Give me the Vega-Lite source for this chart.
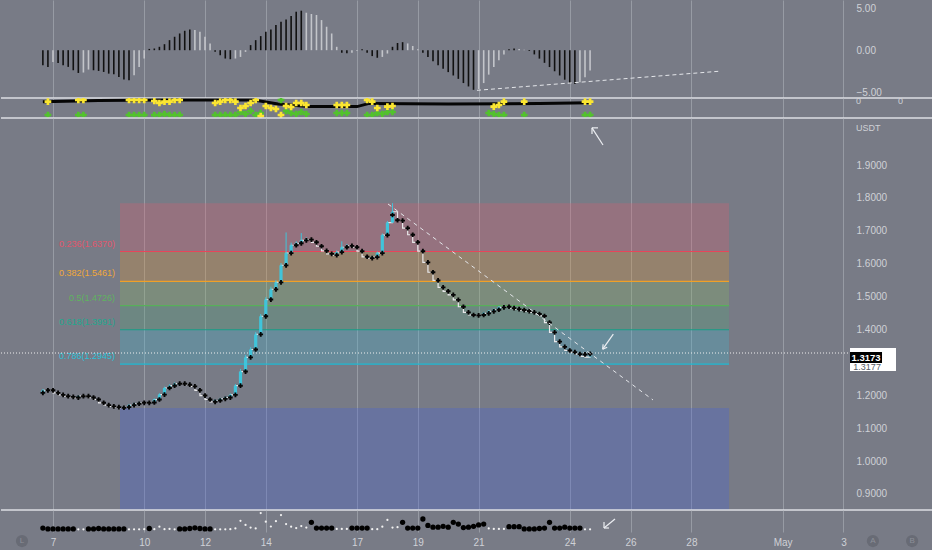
{
"$schema": "https://vega.github.io/schema/vega-lite/v6.json",
"background": "#787b86",
"padding": {"left": 0, "top": 0, "right": 0, "bottom": 3},
"spacing": 0,
"bounds": "flush",
"config": {
  "view": {"stroke": null},
  "axis": {"labelFont": "Liberation Sans", "labelColor": "#cfd1d6", "labelFontSize": 10, "tickSize": 0, "ticks": false, "domain": false},
  "axisX": {"labels": false, "grid": true, "gridColor": "#a2a5ad", "gridOpacity": 0.75, "minExtent": 0, "maxExtent": 0},
  "axisY": {"grid": false},
  "text": {"font": "Liberation Sans"}
},
"resolve": {"scale": {"x": "independent", "y": "independent", "color": "independent", "fill": "independent", "stroke": "independent"}, "axis": {"x": "independent"}},
"datasets": {
  "bars": [
    {"d":6.667,"o":1.205,"h":1.219,"c":1.215,"m":1.207,"hist":-1.79,"bv":1.8,"bk":"b"},
    {"d":6.833,"o":1.215,"h":1.218,"c":1.215,"m":1.215,"hist":-1.98,"bv":1.4,"bk":"b"},
    {"d":7.0,"o":1.215,"h":1.218,"c":1.207,"m":1.215,"hist":-1.39,"bv":1.4,"bk":"b"},
    {"d":7.167,"o":1.207,"h":1.210,"c":1.201,"m":1.207,"hist":-1.51,"bv":1.4,"bk":"b"},
    {"d":7.333,"o":1.201,"h":1.204,"c":1.197,"m":1.201,"hist":-1.79,"bv":1.4,"bk":"b"},
    {"d":7.5,"o":1.197,"h":1.200,"c":1.195,"m":1.197,"hist":-1.98,"bv":1.4,"bk":"b"},
    {"d":7.667,"o":1.195,"h":1.198,"c":1.193,"m":1.195,"hist":-2.38,"bv":1.4,"bk":"b"},
    {"d":7.833,"o":1.193,"h":1.200,"c":1.197,"m":1.193,"hist":-2.70,"bv":1.2,"bk":"w"},
    {"d":8.0,"o":1.197,"h":1.200,"c":1.197,"m":1.197,"hist":-2.65,"bv":1.2,"bk":"w"},
    {"d":8.167,"o":1.197,"h":1.200,"c":1.193,"m":1.197,"hist":-2.30,"bv":1.4,"bk":"b"},
    {"d":8.333,"o":1.193,"h":1.196,"c":1.187,"m":1.193,"hist":-2.38,"bv":1.4,"bk":"b"},
    {"d":8.5,"o":1.187,"h":1.190,"c":1.177,"m":1.187,"hist":-2.46,"bv":1.6,"bk":"b"},
    {"d":8.667,"o":1.177,"h":1.180,"c":1.170,"m":1.177,"hist":-2.58,"bv":1.4,"bk":"b"},
    {"d":8.833,"o":1.170,"h":1.173,"c":1.166,"m":1.170,"hist":-2.78,"bv":1.4,"bk":"b"},
    {"d":9.0,"o":1.166,"h":1.169,"c":1.164,"m":1.166,"hist":-2.86,"bv":1.4,"bk":"b"},
    {"d":9.167,"o":1.164,"h":1.167,"c":1.162,"m":1.164,"hist":-3.17,"bv":1.4,"bk":"b"},
    {"d":9.333,"o":1.162,"h":1.167,"c":1.164,"m":1.162,"hist":-3.49,"bv":1.4,"bk":"b"},
    {"d":9.5,"o":1.164,"h":1.173,"c":1.170,"m":1.164,"hist":-3.57,"bv":1.2,"bk":"w"},
    {"d":9.667,"o":1.170,"h":1.177,"c":1.174,"m":1.170,"hist":-2.98,"bv":1.2,"bk":"w"},
    {"d":9.833,"o":1.174,"h":1.180,"c":1.177,"m":1.174,"hist":-1.98,"bv":1.2,"bk":"w"},
    {"d":10.0,"o":1.177,"h":1.180,"c":1.177,"m":1.177,"hist":-0.99,"bv":1.3,"bk":"w"},
    {"d":10.167,"o":1.177,"h":1.181,"c":1.178,"m":1.177,"hist":0.15,"bv":1.6,"bk":"b"},
    {"d":10.333,"o":1.178,"h":1.190,"c":1.187,"m":1.178,"hist":0.2,"bv":1.3,"bk":"w"},
    {"d":10.5,"o":1.187,"h":1.206,"c":1.202,"m":1.187,"hist":0.4,"bv":2.4,"bk":"w"},
    {"d":10.667,"o":1.202,"h":1.226,"c":1.222,"m":1.202,"hist":0.71,"bv":1.3,"bk":"w"},
    {"d":10.833,"o":1.222,"h":1.233,"c":1.229,"m":1.222,"hist":1.19,"bv":1.4,"bk":"w"},
    {"d":11.0,"o":1.229,"h":1.239,"c":1.235,"m":1.229,"hist":1.59,"bv":1.2,"bk":"w"},
    {"d":11.167,"o":1.235,"h":1.238,"c":1.235,"m":1.235,"hist":1.98,"bv":1.4,"bk":"b"},
    {"d":11.333,"o":1.235,"h":1.238,"c":1.232,"m":1.235,"hist":2.30,"bv":1.4,"bk":"b"},
    {"d":11.5,"o":1.232,"h":1.235,"c":1.227,"m":1.232,"hist":2.46,"bv":1.6,"bk":"b"},
    {"d":11.667,"o":1.227,"h":1.230,"c":1.215,"m":1.227,"hist":2.38,"bv":1.9,"bk":"b"},
    {"d":11.833,"o":1.215,"h":1.218,"c":1.199,"m":1.215,"hist":2.18,"bv":1.6,"bk":"b"},
    {"d":12.0,"o":1.199,"h":1.202,"c":1.187,"m":1.199,"hist":1.59,"bv":1.4,"bk":"b"},
    {"d":12.167,"o":1.187,"h":1.190,"c":1.180,"m":1.187,"hist":0.79,"bv":1.4,"bk":"b"},
    {"d":12.333,"o":1.180,"h":1.187,"c":1.184,"m":1.180,"hist":-0.2,"bv":1.2,"bk":"w"},
    {"d":12.5,"o":1.184,"h":1.192,"c":1.189,"m":1.184,"hist":-0.6,"bv":1.2,"bk":"w"},
    {"d":12.667,"o":1.189,"h":1.196,"c":1.193,"m":1.189,"hist":-0.99,"bv":1.2,"bk":"w"},
    {"d":12.833,"o":1.193,"h":1.205,"c":1.201,"m":1.193,"hist":-1.07,"bv":1.3,"bk":"w"},
    {"d":13.0,"o":1.201,"h":1.234,"c":1.229,"m":1.201,"hist":-0.99,"bv":1.6,"bk":"w"},
    {"d":13.167,"o":1.229,"h":1.280,"c":1.272,"m":1.229,"hist":-0.8,"bv":5.1,"bk":"w"},
    {"d":13.333,"o":1.272,"h":1.322,"c":1.315,"m":1.272,"hist":-0.2,"bv":3.2,"bk":"w"},
    {"d":13.5,"o":1.315,"h":1.346,"c":1.339,"m":1.315,"hist":0.6,"bv":2.0,"bk":"w"},
    {"d":13.667,"o":1.339,"h":1.392,"c":1.385,"m":1.339,"hist":1.19,"bv":1.6,"bk":"w"},
    {"d":13.833,"o":1.385,"h":1.447,"c":1.440,"m":1.385,"hist":1.67,"bv":8.6,"bk":"w"},
    {"d":14.0,"o":1.440,"h":1.498,"c":1.491,"m":1.440,"hist":2.18,"bv":4.7,"bk":"w"},
    {"d":14.167,"o":1.491,"h":1.530,"c":1.522,"m":1.491,"hist":2.46,"bv":2.5,"bk":"w"},
    {"d":14.333,"o":1.522,"h":1.550,"c":1.543,"m":1.522,"hist":2.98,"bv":4.9,"bk":"w"},
    {"d":14.5,"o":1.543,"h":1.602,"c":1.595,"m":1.543,"hist":3.37,"bv":7.7,"bk":"w"},
    {"d":14.667,"o":1.595,"h":1.695,"c":1.632,"m":1.595,"hist":3.65,"bv":3.6,"bk":"w"},
    {"d":14.833,"o":1.632,"h":1.664,"c":1.656,"m":1.632,"hist":4.05,"bv":2.4,"bk":"w"},
    {"d":15.0,"o":1.656,"h":1.668,"c":1.662,"m":1.656,"hist":4.56,"bv":1.8,"bk":"w"},
    {"d":15.167,"o":1.662,"h":1.693,"c":1.671,"m":1.662,"hist":4.68,"bv":2.7,"bk":"w"},
    {"d":15.333,"o":1.671,"h":1.680,"c":1.673,"m":1.671,"hist":4.44,"bv":2.0,"bk":"w"},
    {"d":15.5,"o":1.673,"h":1.676,"c":1.665,"m":1.673,"hist":4.29,"bv":4.4,"bk":"b"},
    {"d":15.667,"o":1.665,"h":1.668,"c":1.653,"m":1.665,"hist":4.17,"bv":1.8,"bk":"b"},
    {"d":15.833,"o":1.653,"h":1.656,"c":1.639,"m":1.653,"hist":3.57,"bv":1.8,"bk":"b"},
    {"d":16.0,"o":1.639,"h":1.642,"c":1.630,"m":1.639,"hist":2.78,"bv":1.8,"bk":"b"},
    {"d":16.167,"o":1.630,"h":1.633,"c":1.626,"m":1.630,"hist":1.98,"bv":1.8,"bk":"b"},
    {"d":16.333,"o":1.626,"h":1.640,"c":1.635,"m":1.626,"hist":0.4,"bv":1.4,"bk":"w"},
    {"d":16.5,"o":1.635,"h":1.668,"c":1.650,"m":1.635,"hist":-0.3,"bv":1.4,"bk":"w"},
    {"d":16.667,"o":1.650,"h":1.660,"c":1.654,"m":1.650,"hist":-0.35,"bv":1.4,"bk":"w"},
    {"d":16.833,"o":1.654,"h":1.657,"c":1.650,"m":1.654,"hist":-0.3,"bv":1.8,"bk":"b"},
    {"d":17.0,"o":1.650,"h":1.653,"c":1.638,"m":1.650,"hist":-0.1,"bv":1.8,"bk":"b"},
    {"d":17.167,"o":1.638,"h":1.641,"c":1.621,"m":1.638,"hist":0.1,"bv":1.8,"bk":"b"},
    {"d":17.333,"o":1.621,"h":1.624,"c":1.617,"m":1.621,"hist":-0.3,"bv":1.8,"bk":"b"},
    {"d":17.5,"o":1.617,"h":1.624,"c":1.620,"m":1.617,"hist":-0.7,"bv":1.3,"bk":"w"},
    {"d":17.667,"o":1.620,"h":1.637,"c":1.632,"m":1.620,"hist":-0.9,"bv":1.3,"bk":"w"},
    {"d":17.833,"o":1.632,"h":1.692,"c":1.687,"m":1.632,"hist":-0.8,"bv":2.4,"bk":"w"},
    {"d":18.0,"o":1.687,"h":1.730,"c":1.725,"m":1.687,"hist":-0.4,"bv":5.5,"bk":"w"},
    {"d":18.167,"o":1.725,"h":1.784,"c":1.758,"m":1.748,"hist":0.4,"bv":2.0,"bk":"w"},
    {"d":18.333,"o":1.758,"h":1.761,"c":1.731,"m":1.732,"hist":0.85,"bv":2.2,"bk":"w"},
    {"d":18.5,"o":1.731,"h":1.734,"c":1.708,"m":1.731,"hist":0.95,"bv":4.4,"bk":"b"},
    {"d":18.667,"o":1.708,"h":1.711,"c":1.688,"m":1.708,"hist":0.8,"bv":1.8,"bk":"b"},
    {"d":18.833,"o":1.688,"h":1.691,"c":1.665,"m":1.688,"hist":0.5,"bv":1.8,"bk":"b"},
    {"d":19.0,"o":1.665,"h":1.668,"c":1.638,"m":1.665,"hist":0.1,"bv":1.8,"bk":"b"},
    {"d":19.167,"o":1.638,"h":1.641,"c":1.604,"m":1.638,"hist":-0.3,"bv":5.9,"bk":"b"},
    {"d":19.333,"o":1.604,"h":1.607,"c":1.574,"m":1.604,"hist":-0.8,"bv":3.0,"bk":"b"},
    {"d":19.5,"o":1.574,"h":1.577,"c":1.549,"m":1.574,"hist":-1.3,"bv":2.2,"bk":"b"},
    {"d":19.667,"o":1.549,"h":1.552,"c":1.528,"m":1.549,"hist":-1.8,"bv":2.2,"bk":"b"},
    {"d":19.833,"o":1.528,"h":1.531,"c":1.516,"m":1.528,"hist":-2.2,"bv":2.6,"bk":"b"},
    {"d":20.0,"o":1.516,"h":1.519,"c":1.505,"m":1.516,"hist":-2.6,"bv":2.2,"bk":"b"},
    {"d":20.167,"o":1.505,"h":1.508,"c":1.490,"m":1.505,"hist":-3.0,"bv":4.4,"bk":"b"},
    {"d":20.333,"o":1.490,"h":1.493,"c":1.469,"m":1.490,"hist":-3.4,"bv":3.6,"bk":"b"},
    {"d":20.5,"o":1.469,"h":1.472,"c":1.452,"m":1.469,"hist":-3.9,"bv":2.0,"bk":"b"},
    {"d":20.667,"o":1.452,"h":1.455,"c":1.444,"m":1.452,"hist":-4.3,"bv":2.2,"bk":"b"},
    {"d":20.833,"o":1.444,"h":1.447,"c":1.443,"m":1.444,"hist":-4.7,"bv":2.6,"bk":"b"},
    {"d":21.0,"o":1.443,"h":1.447,"c":1.444,"m":1.443,"hist":-4.6,"bv":3.2,"bk":"b"},
    {"d":21.167,"o":1.444,"h":1.453,"c":1.449,"m":1.444,"hist":-3.9,"bv":3.6,"bk":"b"},
    {"d":21.333,"o":1.449,"h":1.459,"c":1.455,"m":1.449,"hist":-2.9,"bv":1.6,"bk":"w"},
    {"d":21.5,"o":1.455,"h":1.464,"c":1.460,"m":1.455,"hist":-2.0,"bv":1.4,"bk":"w"},
    {"d":21.667,"o":1.460,"h":1.471,"c":1.467,"m":1.460,"hist":-1.2,"bv":1.4,"bk":"w"},
    {"d":21.833,"o":1.467,"h":1.473,"c":1.469,"m":1.467,"hist":-0.5,"bv":1.4,"bk":"w"},
    {"d":22.0,"o":1.469,"h":1.472,"c":1.465,"m":1.469,"hist":0.1,"bv":2.4,"bk":"b"},
    {"d":22.167,"o":1.465,"h":1.468,"c":1.462,"m":1.465,"hist":0.2,"bv":2.4,"bk":"b"},
    {"d":22.333,"o":1.462,"h":1.465,"c":1.459,"m":1.462,"hist":0.15,"bv":2.4,"bk":"b"},
    {"d":22.5,"o":1.459,"h":1.462,"c":1.456,"m":1.459,"hist":0.05,"bv":1.4,"bk":"b"},
    {"d":22.667,"o":1.456,"h":1.459,"c":1.452,"m":1.456,"hist":-0.1,"bv":1.4,"bk":"b"},
    {"d":22.833,"o":1.452,"h":1.455,"c":1.447,"m":1.452,"hist":-0.5,"bv":1.4,"bk":"b"},
    {"d":23.0,"o":1.447,"h":1.450,"c":1.441,"m":1.447,"hist":-1.0,"bv":1.6,"bk":"b"},
    {"d":23.167,"o":1.441,"h":1.444,"c":1.421,"m":1.441,"hist":-1.5,"bv":1.8,"bk":"b"},
    {"d":23.333,"o":1.421,"h":1.424,"c":1.391,"m":1.421,"hist":-2.0,"bv":4.4,"bk":"b"},
    {"d":23.5,"o":1.391,"h":1.394,"c":1.363,"m":1.391,"hist":-2.5,"bv":1.8,"bk":"b"},
    {"d":23.667,"o":1.363,"h":1.366,"c":1.347,"m":1.363,"hist":-3.0,"bv":1.8,"bk":"b"},
    {"d":23.833,"o":1.347,"h":1.350,"c":1.336,"m":1.347,"hist":-3.5,"bv":2.2,"bk":"b"},
    {"d":24.0,"o":1.336,"h":1.339,"c":1.331,"m":1.336,"hist":-3.9,"bv":1.8,"bk":"b"},
    {"d":24.167,"o":1.331,"h":1.334,"c":1.325,"m":1.331,"hist":-4.0,"bv":1.8,"bk":"b"},
    {"d":24.333,"o":1.325,"h":1.328,"c":1.318,"m":1.325,"hist":-3.8,"bv":1.8,"bk":"b"},
    {"d":24.5,"o":1.318,"h":1.321,"c":1.316,"m":1.324,"hist":-3.2,"bv":1.2,"bk":"w"},
    {"d":24.667,"o":1.316,"h":1.320,"c":1.3173,"m":1.326,"hist":-2.4,"bv":1.2,"bk":"w"}
  ],
  "sig": [
    {"d":6.833,"v":1.5,"k":"g"},{"d":7.833,"v":1.5,"k":"g"},{"d":8.0,"v":1.5,"k":"g"},{"d":9.5,"v":1.5,"k":"g"},{"d":9.667,"v":1.5,"k":"g"},{"d":9.833,"v":1.5,"k":"g"},{"d":10.0,"v":1.5,"k":"g"},{"d":10.333,"v":1.5,"k":"g"},{"d":10.5,"v":1.5,"k":"g"},{"d":10.667,"v":2,"k":"g"},{"d":10.833,"v":1.5,"k":"g"},{"d":11.0,"v":1.5,"k":"g"},{"d":11.167,"v":1.5,"k":"g"},{"d":12.333,"v":1.5,"k":"g"},{"d":12.5,"v":1.5,"k":"g"},{"d":12.667,"v":1.5,"k":"g"},{"d":12.833,"v":1.5,"k":"g"},{"d":13.0,"v":1.5,"k":"g"},{"d":13.167,"v":3,"k":"g"},{"d":13.333,"v":2,"k":"g"},{"d":13.5,"v":3.5,"k":"g"},{"d":13.667,"v":1.5,"k":"g"},{"d":13.833,"v":2.5,"k":"g"},{"d":14.5,"v":9,"k":"g"},{"d":14.667,"v":3.5,"k":"g"},{"d":14.833,"v":2.5,"k":"g"},{"d":15.0,"v":2,"k":"g"},{"d":15.167,"v":3,"k":"g"},{"d":15.333,"v":2,"k":"g"},{"d":16.333,"v":2.5,"k":"g"},{"d":16.5,"v":2.5,"k":"g"},{"d":16.667,"v":2.5,"k":"g"},{"d":17.333,"v":1.5,"k":"g"},{"d":17.5,"v":1.5,"k":"g"},{"d":17.667,"v":2.5,"k":"g"},{"d":17.833,"v":2,"k":"g"},{"d":18.0,"v":3,"k":"g"},{"d":18.167,"v":3,"k":"g"},{"d":21.333,"v":2.5,"k":"g"},{"d":21.5,"v":2,"k":"g"},{"d":21.667,"v":1.5,"k":"g"},{"d":21.833,"v":1.5,"k":"g"},{"d":22.5,"v":1.5,"k":"g"},{"d":24.5,"v":1.5,"k":"g"},{"d":24.667,"v":1.5,"k":"g"},
    {"d":6.833,"v":8.2,"k":"y"},{"d":7.833,"v":9,"k":"y"},{"d":8.0,"v":9,"k":"y"},{"d":9.5,"v":9,"k":"y"},{"d":9.667,"v":9,"k":"y"},{"d":9.833,"v":9,"k":"y"},{"d":10.0,"v":9,"k":"y"},{"d":10.333,"v":8.5,"k":"y"},{"d":10.5,"v":7.5,"k":"y"},{"d":10.667,"v":8.2,"k":"y"},{"d":10.833,"v":8.2,"k":"y"},{"d":11.0,"v":9,"k":"y"},{"d":11.167,"v":9,"k":"y"},{"d":12.333,"v":7.5,"k":"y"},{"d":12.5,"v":8.2,"k":"y"},{"d":12.667,"v":9,"k":"y"},{"d":12.833,"v":9,"k":"y"},{"d":13.0,"v":8.2,"k":"y"},{"d":13.167,"v":5,"k":"y"},{"d":13.333,"v":6,"k":"y"},{"d":13.5,"v":7.5,"k":"y"},{"d":13.667,"v":9,"k":"y"},{"d":13.833,"v":0.9,"k":"y"},{"d":14.0,"v":6,"k":"y"},{"d":14.167,"v":5,"k":"y"},{"d":14.333,"v":4.5,"k":"y"},{"d":14.5,"v":1.5,"k":"y"},{"d":14.667,"v":6,"k":"y"},{"d":14.833,"v":5.5,"k":"y"},{"d":15.0,"v":7.5,"k":"y"},{"d":15.167,"v":7.5,"k":"y"},{"d":15.333,"v":6.5,"k":"y"},{"d":16.333,"v":6.5,"k":"y"},{"d":16.5,"v":6.5,"k":"y"},{"d":16.667,"v":6.5,"k":"y"},{"d":17.333,"v":9,"k":"y"},{"d":17.5,"v":8.2,"k":"y"},{"d":17.667,"v":5,"k":"y"},{"d":18.0,"v":5.7,"k":"y"},{"d":18.167,"v":6,"k":"y"},{"d":21.5,"v":5.7,"k":"y"},{"d":21.667,"v":6.5,"k":"y"},{"d":21.833,"v":8.2,"k":"y"},{"d":22.5,"v":8.2,"k":"y"},{"d":24.5,"v":8.2,"k":"y"},{"d":24.667,"v":8.2,"k":"y"}
  ],
  "osc": [
    {"d":6.667,"v":8.15},{"d":8.5,"v":8.8},{"d":10.5,"v":9},{"d":13.6,"v":9},{"d":14.4,"v":7},{"d":15.4,"v":5.7},{"d":17.0,"v":5.7},{"d":17.4,"v":7.3},{"d":20.0,"v":7},{"d":23.0,"v":7.2},{"d":24.667,"v":7.6}
  ],
  "fib": [
    {"lvl":"0.236","d1":9.204,"d2":29.237,"top":1.784,"bot":1.637,"lab":"0.236(1.6370)"},
    {"lvl":"0.382","d1":9.204,"d2":29.237,"top":1.637,"bot":1.5461,"lab":"0.382(1.5461)"},
    {"lvl":"0.5","d1":9.204,"d2":29.237,"top":1.5461,"bot":1.4726,"lab":"0.5(1.4726)"},
    {"lvl":"0.618","d1":9.204,"d2":29.237,"top":1.4726,"bot":1.3991,"lab":"0.618(1.3991)"},
    {"lvl":"0.786","d1":9.204,"d2":29.237,"top":1.3991,"bot":1.2945,"lab":"0.786(1.2945)"},
    {"lvl":"box","d1":9.204,"d2":29.237,"top":1.1612,"bot":0.851,"lab":""}
  ],
  "trend": [{"d1":18.02,"p1":1.7815,"d2":26.737,"p2":1.1856}],
  "pline": [{"d1":5.29,"d2":33.217,"p":1.3284}],
  "arr": [
    {"d1":25.092,"p1":1.961,"d2":24.730,"p2":2.013},
    {"d1":24.730,"p1":2.013,"d2":24.928,"p2":2.013},
    {"d1":24.730,"p1":2.013,"d2":24.730,"p2":1.994},
    {"d1":25.431,"p1":1.386,"d2":25.082,"p2":1.340},
    {"d1":25.082,"p1":1.340,"d2":25.230,"p2":1.346},
    {"d1":25.082,"p1":1.340,"d2":25.095,"p2":1.355}
  ],
  "topdash": [{"d1":20.947,"v1":-4.76,"d2":28.908,"v2":-2.5}],
  "botarr": [
    {"d1":25.487,"v1":5.9,"d2":25.125,"v2":1.82},
    {"d1":25.125,"v1":1.82,"d2":25.289,"v2":1.82},
    {"d1":25.125,"v1":1.82,"d2":25.125,"v2":4.5}
  ],
  "icons": [{"d":5.98,"t":"L"},{"d":33.97,"t":"A"},{"d":35.26,"t":"B"}]
},
"vconcat": [
  {
    "width": 932, "height": 98,
    "layer": [
      {
        "data": {"name": "bars"},
        "transform": [{"window": [{"op": "lag", "field": "hist", "as": "hp"}], "sort": [{"field": "d"}]}],
        "mark": {"type": "rule", "strokeWidth": 1.6},
        "encoding": {
          "x": {"field": "d", "type": "quantitative", "title": null, "scale": {"domain": [5.2895, 35.947], "nice": false, "zero": false}, "axis": {"values": [7,10,12,14,17,19,21,24,26,28,31,33]}},
          "y": {"field": "hist", "type": "quantitative", "title": null, "scale": {"domain": [-5.67, 5.95], "nice": false, "zero": false}, "axis": {"orient": "right", "offset": -77, "values": [-5,-2.5,0,2.5,5], "format": ".2f", "labelPadding": 0}},
          "y2": {"datum": 0},
          "color": {"condition": {"test": "datum.hp != null && datum.hist * datum.hp > 0 && abs(datum.hist) < abs(datum.hp)", "value": "#c3c5ca"}, "value": "#111111"}
        }
      },
      {
        "data": {"name": "topdash"},
        "mark": {"type": "rule", "color": "#e4e6ea", "strokeWidth": 1, "strokeDash": [4, 3]},
        "encoding": {
          "x": {"field": "d1", "type": "quantitative", "title": null, "scale": {"domain": [5.2895, 35.947], "nice": false, "zero": false}},
          "y": {"field": "v1", "type": "quantitative", "title": null, "scale": {"domain": [-5.67, 5.95], "nice": false, "zero": false}},
          "x2": {"field": "d2"}, "y2": {"field": "v2"}
        }
      },
      {
        "data": {"values": [{}]},
        "mark": {"type": "rule", "color": "#dcdee3", "strokeWidth": 1.5},
        "encoding": {"y": {"datum": -5.67, "type": "quantitative", "scale": {"domain": [-5.67, 5.95], "nice": false, "zero": false}}}
      }
    ]
  },
  {
    "width": 932, "height": 20,
    "layer": [
      {
        "data": {"name": "osc"},
        "mark": {"type": "line", "color": "#050505", "strokeWidth": 3},
        "encoding": {
          "x": {"field": "d", "type": "quantitative", "title": null, "scale": {"domain": [5.2895, 35.947], "nice": false, "zero": false}, "axis": {"values": [7,10,12,14,17,19,21,24,26,28,31,33]}},
          "y": {"field": "v", "type": "quantitative", "title": null, "scale": {"domain": [0, 10], "nice": false, "zero": false}, "axis": null}
        }
      },
      {
        "data": {"name": "sig"},
        "mark": {"type": "point", "shape": "cross", "filled": true, "size": 45, "opacity": 1, "clip": true},
        "encoding": {
          "x": {"field": "d", "type": "quantitative", "title": null, "scale": {"domain": [5.2895, 35.947], "nice": false, "zero": false}},
          "y": {"field": "v", "type": "quantitative", "title": null, "scale": {"domain": [0, 10], "nice": false, "zero": false}},
          "color": {"field": "k", "type": "nominal", "scale": {"domain": ["y", "g"], "range": ["#fbe631", "#52c22c"]}, "legend": null}
        }
      },
      {
        "data": {"values": [{}]},
        "mark": {"type": "text", "text": "0", "fontSize": 9, "color": "#cfd1d6", "align": "left", "baseline": "middle"},
        "encoding": {"x": {"datum": 33.414, "type": "quantitative", "scale": {"domain": [5.2895, 35.947], "nice": false, "zero": false}}, "y": {"datum": 8.5, "type": "quantitative", "scale": {"domain": [0, 10], "nice": false, "zero": false}}}
      },
      {
        "data": {"values": [{}]},
        "mark": {"type": "text", "text": "0", "fontSize": 9, "color": "#cfd1d6", "align": "left", "baseline": "middle"},
        "encoding": {"x": {"datum": 34.796, "type": "quantitative", "scale": {"domain": [5.2895, 35.947], "nice": false, "zero": false}}, "y": {"datum": 8.5, "type": "quantitative", "scale": {"domain": [0, 10], "nice": false, "zero": false}}}
      },
      {
        "data": {"values": [{}]},
        "mark": {"type": "rule", "color": "#dcdee3", "strokeWidth": 1.5},
        "encoding": {"y": {"datum": 0, "type": "quantitative", "scale": {"domain": [0, 10], "nice": false, "zero": false}}}
      }
    ]
  },
  {
    "width": 932, "height": 392,
    "layer": [
      {
        "data": {"name": "fib"},
        "mark": {"type": "rect", "fillOpacity": 0.3},
        "encoding": {
          "x": {"field": "d1", "type": "quantitative", "title": null, "scale": {"domain": [5.2895, 35.947], "nice": false, "zero": false}, "axis": {"values": [7,10,12,14,17,19,21,24,26,28,31,33]}},
          "x2": {"field": "d2"},
          "y": {"field": "top", "type": "quantitative", "title": null, "scale": {"domain": [0.851, 2.043], "nice": false, "zero": false}, "axis": {"orient": "right", "offset": -77, "values": [0.9,1.0,1.1,1.2,1.4,1.5,1.6,1.7,1.8,1.9], "format": ".4f", "labelPadding": 0}},
          "y2": {"field": "bot"},
          "fill": {"field": "lvl", "type": "nominal", "scale": {"domain": ["0.236","0.382","0.5","0.618","0.786","box"], "range": ["#dc5d72","#dc9236","#89b468","#57a379","#46b4cc","#4660dc"]}, "legend": null}
        }
      },
      {
        "data": {"name": "fib"},
        "transform": [{"filter": "datum.lab != ''"}],
        "mark": {"type": "rule", "strokeWidth": 1.2},
        "encoding": {
          "x": {"field": "d1", "type": "quantitative", "title": null, "scale": {"domain": [5.2895, 35.947], "nice": false, "zero": false}},
          "x2": {"field": "d2"},
          "y": {"field": "bot", "type": "quantitative", "title": null, "scale": {"domain": [0.851, 2.043], "nice": false, "zero": false}},
          "stroke": {"field": "lvl", "type": "nominal", "scale": {"domain": ["0.236","0.382","0.5","0.618","0.786"], "range": ["#e8455a","#f0a028","#58b05a","#169e86","#1fb9d2"]}, "legend": null}
        }
      },
      {
        "data": {"name": "fib"},
        "transform": [{"filter": "datum.lab != ''"}],
        "mark": {"type": "text", "align": "right", "baseline": "bottom", "dx": -5, "dy": -3, "fontSize": 9},
        "encoding": {
          "x": {"field": "d1", "type": "quantitative", "title": null, "scale": {"domain": [5.2895, 35.947], "nice": false, "zero": false}},
          "y": {"field": "bot", "type": "quantitative", "title": null, "scale": {"domain": [0.851, 2.043], "nice": false, "zero": false}},
          "text": {"field": "lab"},
          "color": {"field": "lvl", "type": "nominal", "scale": {"domain": ["0.236","0.382","0.5","0.618","0.786"], "range": ["#e0566c","#f0a83a","#5fb360","#23a88e","#2bc1d8"]}, "legend": null}
        }
      },
      {
        "data": {"name": "pline"},
        "mark": {"type": "rule", "color": "#eeeeee", "strokeWidth": 1, "strokeDash": [1, 2]},
        "encoding": {
          "x": {"field": "d1", "type": "quantitative", "title": null, "scale": {"domain": [5.2895, 35.947], "nice": false, "zero": false}},
          "x2": {"field": "d2"},
          "y": {"field": "p", "type": "quantitative", "title": null, "scale": {"domain": [0.851, 2.043], "nice": false, "zero": false}}
        }
      },
      {
        "data": {"name": "bars"},
        "mark": {"type": "line", "interpolate": "step-after", "color": "#e8e8ea", "strokeWidth": 1.2},
        "encoding": {
          "x": {"field": "d", "type": "quantitative", "title": null, "scale": {"domain": [5.2895, 35.947], "nice": false, "zero": false}},
          "y": {"field": "c", "type": "quantitative", "title": null, "scale": {"domain": [0.851, 2.043], "nice": false, "zero": false}}
        }
      },
      {
        "data": {"name": "bars"},
        "transform": [{"filter": "datum.c > datum.o"}],
        "mark": {"type": "rule", "color": "#40c4da", "strokeWidth": 1},
        "encoding": {
          "x": {"field": "d", "type": "quantitative", "title": null, "scale": {"domain": [5.2895, 35.947], "nice": false, "zero": false}},
          "y": {"field": "o", "type": "quantitative", "title": null, "scale": {"domain": [0.851, 2.043], "nice": false, "zero": false}},
          "y2": {"field": "h"}
        }
      },
      {
        "data": {"name": "bars"},
        "transform": [{"filter": "datum.c > datum.o"}],
        "mark": {"type": "rule", "color": "#40c4da", "strokeWidth": 3.2},
        "encoding": {
          "x": {"field": "d", "type": "quantitative", "title": null, "scale": {"domain": [5.2895, 35.947], "nice": false, "zero": false}},
          "y": {"field": "o", "type": "quantitative", "title": null, "scale": {"domain": [0.851, 2.043], "nice": false, "zero": false}},
          "y2": {"field": "c"}
        }
      },
      {
        "data": {"name": "bars"},
        "mark": {"type": "point", "shape": "cross", "filled": true, "size": 22, "color": "#050505", "opacity": 1},
        "encoding": {
          "x": {"field": "d", "type": "quantitative", "title": null, "scale": {"domain": [5.2895, 35.947], "nice": false, "zero": false}},
          "y": {"field": "m", "type": "quantitative", "title": null, "scale": {"domain": [0.851, 2.043], "nice": false, "zero": false}}
        }
      },
      {
        "data": {"name": "trend"},
        "mark": {"type": "rule", "color": "#e4e6ea", "strokeWidth": 1, "strokeDash": [4, 4]},
        "encoding": {
          "x": {"field": "d1", "type": "quantitative", "title": null, "scale": {"domain": [5.2895, 35.947], "nice": false, "zero": false}},
          "y": {"field": "p1", "type": "quantitative", "title": null, "scale": {"domain": [0.851, 2.043], "nice": false, "zero": false}},
          "x2": {"field": "d2"}, "y2": {"field": "p2"}
        }
      },
      {
        "data": {"name": "arr"},
        "mark": {"type": "rule", "color": "#eceef2", "strokeWidth": 1.2},
        "encoding": {
          "x": {"field": "d1", "type": "quantitative", "title": null, "scale": {"domain": [5.2895, 35.947], "nice": false, "zero": false}},
          "y": {"field": "p1", "type": "quantitative", "title": null, "scale": {"domain": [0.851, 2.043], "nice": false, "zero": false}},
          "x2": {"field": "d2"}, "y2": {"field": "p2"}
        }
      },
      {
        "data": {"values": [{}]},
        "mark": {"type": "rect", "color": "#ffffff"},
        "encoding": {
          "x": {"datum": 33.217, "type": "quantitative", "scale": {"domain": [5.2895, 35.947], "nice": false, "zero": false}},
          "x2": {"datum": 34.73},
          "y": {"datum": 1.3436, "type": "quantitative", "scale": {"domain": [0.851, 2.043], "nice": false, "zero": false}},
          "y2": {"datum": 1.2736}
        }
      },
      {
        "data": {"values": [{}]},
        "mark": {"type": "text", "text": "1.3177", "fontSize": 9, "color": "#555a66", "align": "center", "baseline": "middle"},
        "encoding": {
          "x": {"datum": 33.78, "type": "quantitative", "scale": {"domain": [5.2895, 35.947], "nice": false, "zero": false}},
          "y": {"datum": 1.2865, "type": "quantitative", "scale": {"domain": [0.851, 2.043], "nice": false, "zero": false}}
        }
      },
      {
        "data": {"values": [{}]},
        "mark": {"type": "rect", "color": "#000000"},
        "encoding": {
          "x": {"datum": 33.217, "type": "quantitative", "scale": {"domain": [5.2895, 35.947], "nice": false, "zero": false}},
          "x2": {"datum": 34.27},
          "y": {"datum": 1.3314, "type": "quantitative", "scale": {"domain": [0.851, 2.043], "nice": false, "zero": false}},
          "y2": {"datum": 1.2979}
        }
      },
      {
        "data": {"values": [{}]},
        "mark": {"type": "text", "text": "1.3173", "fontSize": 9.5, "fontWeight": "bold", "color": "#ffffff", "align": "center", "baseline": "middle"},
        "encoding": {
          "x": {"datum": 33.745, "type": "quantitative", "scale": {"domain": [5.2895, 35.947], "nice": false, "zero": false}},
          "y": {"datum": 1.3147, "type": "quantitative", "scale": {"domain": [0.851, 2.043], "nice": false, "zero": false}}
        }
      },
      {
        "data": {"values": [{}]},
        "mark": {"type": "text", "text": "USDT", "fontSize": 9, "color": "#cfd1d6", "align": "left", "baseline": "middle"},
        "encoding": {
          "x": {"datum": 33.414, "type": "quantitative", "scale": {"domain": [5.2895, 35.947], "nice": false, "zero": false}},
          "y": {"datum": 2.013, "type": "quantitative", "scale": {"domain": [0.851, 2.043], "nice": false, "zero": false}}
        }
      },
      {
        "data": {"values": [{}]},
        "mark": {"type": "rule", "color": "#dcdee3", "strokeWidth": 1.5},
        "encoding": {"y": {"datum": 0.851, "type": "quantitative", "scale": {"domain": [0.851, 2.043], "nice": false, "zero": false}}}
      }
    ]
  },
  {
    "width": 932, "height": 22,
    "layer": [
      {
        "data": {"name": "bars"},
        "transform": [{"filter": "datum.bk == 'w'"}],
        "mark": {"type": "circle", "color": "#f2f2f2", "size": 5, "opacity": 1},
        "encoding": {
          "x": {"field": "d", "type": "quantitative", "title": null, "scale": {"domain": [5.2895, 35.947], "nice": false, "zero": false}, "axis": {"values": [7,10,12,14,17,19,21,24,26,28,31,33], "labels": true, "labelExpr": "datum.value == 31 ? 'May' : datum.value > 31 ? '' + (datum.value - 30) : '' + datum.value", "labelPadding": 5, "minExtent": 18, "maxExtent": 18, "labelFontSize": 10}},
          "y": {"field": "bv", "type": "quantitative", "title": null, "scale": {"domain": [0, 10], "nice": false, "zero": false}, "axis": null}
        }
      },
      {
        "data": {"name": "bars"},
        "transform": [{"filter": "datum.bk == 'b'"}],
        "mark": {"type": "circle", "color": "#000000", "size": 28, "opacity": 1},
        "encoding": {
          "x": {"field": "d", "type": "quantitative", "title": null, "scale": {"domain": [5.2895, 35.947], "nice": false, "zero": false}},
          "y": {"field": "bv", "type": "quantitative", "title": null, "scale": {"domain": [0, 10], "nice": false, "zero": false}}
        }
      },
      {
        "data": {"name": "botarr"},
        "mark": {"type": "rule", "color": "#eceef2", "strokeWidth": 1.2},
        "encoding": {
          "x": {"field": "d1", "type": "quantitative", "title": null, "scale": {"domain": [5.2895, 35.947], "nice": false, "zero": false}},
          "y": {"field": "v1", "type": "quantitative", "title": null, "scale": {"domain": [0, 10], "nice": false, "zero": false}},
          "x2": {"field": "d2"}, "y2": {"field": "v2"}
        }
      },
      {
        "data": {"name": "icons"},
        "mark": {"type": "circle", "color": "#686b75", "size": 150, "opacity": 1},
        "encoding": {
          "x": {"field": "d", "type": "quantitative", "title": null, "scale": {"domain": [5.2895, 35.947], "nice": false, "zero": false}},
          "y": {"datum": -4.1, "type": "quantitative", "scale": {"domain": [0, 10], "nice": false, "zero": false}}
        }
      },
      {
        "data": {"name": "icons"},
        "mark": {"type": "text", "color": "#8c8f98", "fontSize": 8, "align": "center", "baseline": "middle"},
        "encoding": {
          "x": {"field": "d", "type": "quantitative", "title": null, "scale": {"domain": [5.2895, 35.947], "nice": false, "zero": false}},
          "y": {"datum": -4.1, "type": "quantitative", "scale": {"domain": [0, 10], "nice": false, "zero": false}},
          "text": {"field": "t"}
        }
      }
    ]
  }
]
}
